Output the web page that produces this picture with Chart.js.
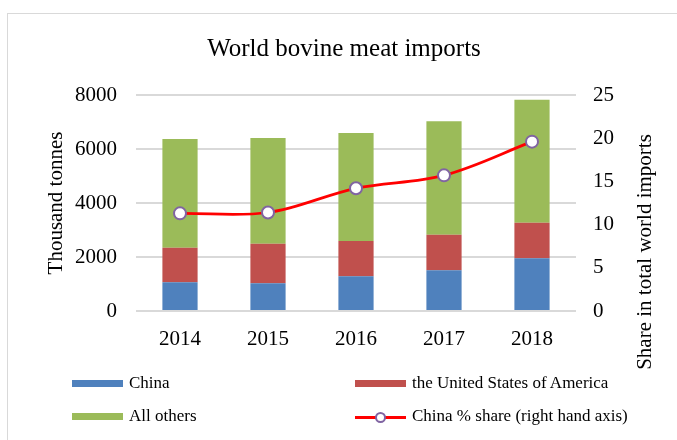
<!DOCTYPE html>
<html>
<head>
<meta charset="utf-8">
<script src="https://cdn.jsdelivr.net/npm/chart.js@4.4.1/dist/chart.umd.min.js"></script>
<style>
    html, body { margin: 0; padding: 0; background: #fff; }
    #wrap { position: relative; width: 677px; height: 440px; overflow: hidden; }
    #frame { position: absolute; left: 7px; top: 13px; width: 700px; height: 460px; border: 1.5px solid #d9d9d9; box-sizing: border-box; }
    #chart { position: absolute; left: 0; top: 0; }
    .leg { position: absolute; font-family: "Liberation Serif", "Times New Roman", serif; font-size: 17px; color: #000; white-space: nowrap; line-height: 20px; }
    .sw { position: absolute; width: 51px; height: 7px; }
</style>
</head>
<body>
<div id="wrap">
    <div id="frame"></div>
    <canvas id="chart" width="677" height="440"></canvas>
    <div id="legend"></div>
</div>
<script>
// 資料
const years = ['2014', '2015', '2016', '2017', '2018'];
const chinaImports = [1063, 1025, 1284, 1506, 1951];
const usaImports = [1281, 1468, 1309, 1321, 1321];
const otherImports = [4026, 3914, 4000, 4198, 4555];
const chinaShare = [11.3, 11.4, 14.2, 15.7, 19.6];

const serif = '"Liberation Serif", "Times New Roman", serif';

// 右側軸標題（由下往上）
const rightTitlePlugin = {
    id: 'rightTitle',
    afterDraw(chart) {
        const ctx = chart.ctx;
        ctx.save();
        ctx.translate(645, 252);
        ctx.rotate(-Math.PI / 2);
        ctx.font = '21px ' + serif;
        ctx.fillStyle = '#000';
        ctx.textAlign = 'center';
        ctx.textBaseline = 'middle';
        ctx.fillText('Share in total world imports', 0, 0);
        ctx.restore();
    }
};

const chart = new Chart(document.getElementById('chart'), {
    type: 'bar',
    data: {
        labels: years,
        datasets: [
            {
                type: 'line',
                label: 'China % share (right hand axis)',
                data: chinaShare,
                yAxisID: 'y1',
                borderColor: '#ff0000',
                borderWidth: 2.75,
                tension: 0.35,
                pointRadius: 6,
                pointBorderWidth: 2,
                pointBorderColor: '#8064a2',
                pointBackgroundColor: '#ffffff',
                order: 0
            },
            { label: 'China', data: chinaImports, backgroundColor: '#4f81bd', order: 1 },
            { label: 'the United States of America', data: usaImports, backgroundColor: '#c0504d', order: 1 },
            { label: 'All others', data: otherImports, backgroundColor: '#9bbb59', order: 1 }
        ]
    },
    options: {
        responsive: false,
        animation: false,
        layout: { padding: { left: 11, right: 0, top: 0, bottom: 0 } },
        datasets: { bar: { barPercentage: 0.4, categoryPercentage: 1.0 } },
        plugins: {
            legend: { display: false },
            tooltip: { enabled: false },
            title: {
                display: true,
                text: 'World bovine meat imports',
                color: '#000',
                font: { family: serif, size: 25, weight: 'normal' },
                padding: { top: 34, bottom: 31 }
            }
        },
        scales: {
            x: {
                stacked: true,
                grid: { display: false, drawTicks: false },
                border: { display: false },
                ticks: { color: '#000', font: { family: serif, size: 21 }, padding: 16 },
                afterFit(scale) { scale.height = 129; }
            },
            y: {
                stacked: true,
                position: 'left',
                min: 0,
                max: 8000,
                ticks: {
                    stepSize: 2000,
                    color: '#000',
                    font: { family: serif, size: 21 },
                    padding: 19,
                    callback: value => String(value)
                },
                grid: { color: '#d9d9d9', lineWidth: 2, drawTicks: false },
                border: { display: false },
                title: {
                    display: true,
                    text: 'Thousand tonnes',
                    color: '#000',
                    font: { family: serif, size: 21 },
                    padding: { top: 33, bottom: 0 }
                },
                afterFit(scale) { scale.width = 125; }
            },
            y1: {
                position: 'right',
                min: 0,
                max: 25,
                ticks: { stepSize: 5, color: '#000', font: { family: serif, size: 21 }, padding: 17 },
                grid: { display: false, drawTicks: false },
                border: { display: false },
                afterFit(scale) { scale.width = 101; }
            }
        }
    },
    plugins: [rightTitlePlugin]
});

// HTML 圖例（兩欄）
function buildLegend() {
    const legend = document.getElementById('legend');
    const ds = chart.data.datasets;
    const items = [
        { d: ds[1], x: 72, y: 384 },
        { d: ds[2], x: 355, y: 384 },
        { d: ds[3], x: 72, y: 417 },
        { d: ds[0], x: 355, y: 417 }
    ];
    items.forEach(item => {
        if (item.d.type === 'line') {
            const line = document.createElement('div');
            line.className = 'sw';
            line.style.cssText = `left:${item.x}px;top:${item.y - 1}px;height:3px;background:${item.d.borderColor};`;
            legend.appendChild(line);
            const dot = document.createElement('div');
            dot.style.cssText = `position:absolute;left:${item.x + 20}px;top:${item.y - 5}px;width:7px;height:7px;border-radius:50%;border:2px solid ${item.d.pointBorderColor};background:#fff;`;
            legend.appendChild(dot);
        } else {
            const sw = document.createElement('div');
            sw.className = 'sw';
            sw.style.cssText = `left:${item.x}px;top:${item.y - 4}px;background:${item.d.backgroundColor};`;
            legend.appendChild(sw);
        }
        const label = document.createElement('div');
        label.className = 'leg';
        label.style.left = (item.x + 57) + 'px';
        label.style.top = (item.y - 11) + 'px';
        label.textContent = item.d.label;
        legend.appendChild(label);
    });
}
buildLegend();
</script>
</body>
</html>
